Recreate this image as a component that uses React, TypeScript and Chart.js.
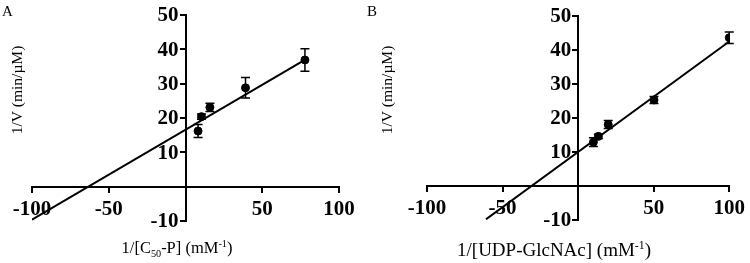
import React, { useEffect, useRef } from "react";
import { Chart, registerables } from "chart.js";

Chart.register(...registerables);

// ---- data ----
const xTickValues = [-100, -50, 0, 50, 100];
const yTickValues = [-10, 0, 10, 20, 30, 40, 50];

const aX = [8.2, 10.4, 15.9, 39.1, 77.8];
const aY = [16.2, 20.4, 23.1, 28.8, 36.9];
const aErr = [1.9, 0.8, 1.2, 3.0, 3.3];
const aFitX = [-100, 78];
const aFitY = [-9.6, 37.0];

const bX = [10.1, 13.4, 19.9, 50.2, 100];
const bY = [12.9, 14.6, 18.1, 25.3, 43.6];
const bErr = [1.3, 0.6, 1.2, 1.0, 1.7];
const bFitX = [-61, 100];
const bFitY = [-9.8, 42.5];

const aXTitle = [
  { t: "1/[C" },
  { t: "50", sub: true },
  { t: "-P] (mM" },
  { t: "-1", sup: true },
  { t: ")" },
];
const bXTitle = [
  { t: "1/[UDP-GlcNAc] (mM" },
  { t: "-1", sup: true },
  { t: ")" },
];
const yTitle = "1/V (min/\u00B5M)";

const SERIF = '"Liberation Serif", "Times New Roman", serif';
const TICK_SIZE = 21;

type Part = { t: string; sub?: boolean; sup?: boolean };

interface PanelCfg {
  letter: string;
  xs: number[];
  ys: number[];
  errs: number[];
  fitX: number[];
  fitY: number[];
  xTitle: Part[];
  xTitleSize: number;
  xTitleCx: number;
  xTitleBase: number;
  yTitleCx: number;
  yTitleCy: number;
  padding: { left: number; right: number; top: number; bottom: number };
  width: number;
  left: number;
}

const panels: PanelCfg[] = [
  {
    letter: "A",
    xs: aX,
    ys: aY,
    errs: aErr,
    fitX: aFitX,
    fitY: aFitY,
    xTitle: aXTitle,
    xTitleSize: 16.5,
    xTitleCx: 177,
    xTitleBase: 253,
    yTitleCx: 18,
    yTitleCy: 90,
    padding: { left: 32, right: 26, top: 15, bottom: 42 },
    width: 365,
    left: 0,
  },
  {
    letter: "B",
    xs: bX,
    ys: bY,
    errs: bErr,
    fitX: bFitX,
    fitY: bFitY,
    xTitle: bXTitle,
    xTitleSize: 19,
    xTitleCx: 189,
    xTitleBase: 256,
    yTitleCx: 23,
    yTitleCy: 90,
    padding: { left: 62, right: 19, top: 16, bottom: 43 },
    width: 385,
    left: 365,
  },
];

function drawRich(ctx: CanvasRenderingContext2D, parts: Part[], cx: number, base: number, size: number) {
  const segs = parts.map((p) => {
    const s = p.sub || p.sup ? size * 0.62 : size;
    ctx.font = `${s}px ${SERIF}`;
    return { ...p, s, w: ctx.measureText(p.t).width };
  });
  const total = segs.reduce((a, s) => a + s.w, 0);
  let x = cx - total / 2;
  ctx.textAlign = "left";
  ctx.textBaseline = "alphabetic";
  for (const s of segs) {
    ctx.font = `${s.s}px ${SERIF}`;
    const dy = s.sub ? size * 0.22 : s.sup ? -size * 0.38 : 0;
    ctx.fillText(s.t, x, base + dy);
    x += s.w;
  }
}

function Panel({ cfg }: { cfg: PanelCfg }) {
  const ref = useRef<HTMLCanvasElement | null>(null);
  useEffect(() => {
    if (!ref.current) return;
    const decor = {
      id: "decor" + cfg.letter,
      afterDatasetsDraw(chart: any) {
        const ctx: CanvasRenderingContext2D = chart.ctx;
        const xs = chart.scales.x;
        const ys = chart.scales.y;
        ctx.save();
        ctx.strokeStyle = "#000";
        ctx.lineWidth = 1.5;
        cfg.xs.forEach((xv, i) => {
          const px = xs.getPixelForValue(xv);
          const top = ys.getPixelForValue(cfg.ys[i] + cfg.errs[i]);
          const bot = ys.getPixelForValue(cfg.ys[i] - cfg.errs[i]);
          ctx.beginPath();
          ctx.moveTo(px, top);
          ctx.lineTo(px, bot);
          ctx.moveTo(px - 4.5, top);
          ctx.lineTo(px + 4.5, top);
          ctx.moveTo(px - 4.5, bot);
          ctx.lineTo(px + 4.5, bot);
          ctx.stroke();
        });
        ctx.restore();
      },
      afterDraw(chart: any) {
        const ctx: CanvasRenderingContext2D = chart.ctx;
        const xs = chart.scales.x;
        const ys = chart.scales.y;
        ctx.save();
        ctx.fillStyle = "#000";
        // y tick labels
        ctx.font = `bold ${TICK_SIZE}px ${SERIF}`;
        ctx.textAlign = "right";
        ctx.textBaseline = "middle";
        const x0 = xs.getPixelForValue(0);
        ys.ticks.forEach((t: any) => {
          if (t.value === 0) return;
          ctx.fillText(String(t.value), x0 - 7, ys.getPixelForValue(t.value) + 1);
        });
        // panel letter
        ctx.font = `15px ${SERIF}`;
        ctx.textAlign = "left";
        ctx.textBaseline = "alphabetic";
        ctx.fillText(cfg.letter, 2, 16);
        // y title
        ctx.save();
        ctx.translate(cfg.yTitleCx, cfg.yTitleCy);
        ctx.rotate(-Math.PI / 2);
        ctx.font = `15.5px ${SERIF}`;
        ctx.textAlign = "center";
        ctx.textBaseline = "middle";
        ctx.fillText(yTitle, 0, 0);
        ctx.restore();
        // x title
        drawRich(ctx, cfg.xTitle, cfg.xTitleCx, cfg.xTitleBase, cfg.xTitleSize);
        ctx.restore();
      },
    };

    const chart = new Chart(ref.current, {
      type: "scatter",
      data: {
        datasets: [
          {
            type: "line",
            data: cfg.fitX.map((x, i) => ({ x, y: cfg.fitY[i] })),
            borderColor: "#000",
            borderWidth: 2,
            pointRadius: 0,
            fill: false,
            order: 2,
          } as any,
          {
            type: "scatter",
            data: cfg.xs.map((x, i) => ({ x, y: cfg.ys[i] })),
            backgroundColor: "#000",
            borderColor: "#000",
            pointRadius: 4,
            order: 1,
          } as any,
        ],
      },
      options: {
        animation: false,
        responsive: false,
        maintainAspectRatio: false,
        layout: { padding: cfg.padding },
        plugins: { legend: { display: false }, tooltip: { enabled: false } },
        scales: {
          x: {
            type: "linear",
            min: -100,
            max: 100,
            position: { y: 0 } as any,
            afterBuildTicks: (s: any) => {
              s.ticks = xTickValues.map((v) => ({ value: v }));
            },
            ticks: {
              callback: (v: any) => (v === 0 ? "" : String(v)),
              font: { family: SERIF, size: TICK_SIZE, weight: "bold" },
              color: "#000",
              padding: 5,
              maxRotation: 0,
              autoSkip: false,
            },
            grid: { drawOnChartArea: false, drawTicks: true, tickLength: 5, color: "#000", lineWidth: 2 },
            border: { display: true, color: "#000", width: 2 },
          },
          y: {
            type: "linear",
            min: -10,
            max: 50,
            position: { x: 0 } as any,
            afterBuildTicks: (s: any) => {
              s.ticks = yTickValues.map((v) => ({ value: v }));
            },
            ticks: { display: false },
            grid: { drawOnChartArea: false, drawTicks: true, tickLength: 5, color: "#000", lineWidth: 2 },
            border: { display: true, color: "#000", width: 2 },
          },
        },
      },
      plugins: [decor],
    });
    return () => chart.destroy();
  }, [cfg]);
  return (
    <canvas
      ref={ref}
      width={cfg.width}
      height={263}
      style={{ position: "absolute", left: cfg.left, top: 0, width: cfg.width, height: 263, display: "block" }}
    />
  );
}

export default function App() {
  return (
    <div style={{ position: "absolute", left: 0, top: 0, width: 750, height: 263, background: "#fff", overflow: "hidden" }}>
      {panels.map((p) => (
        <Panel key={p.letter} cfg={p} />
      ))}
    </div>
  );
}
